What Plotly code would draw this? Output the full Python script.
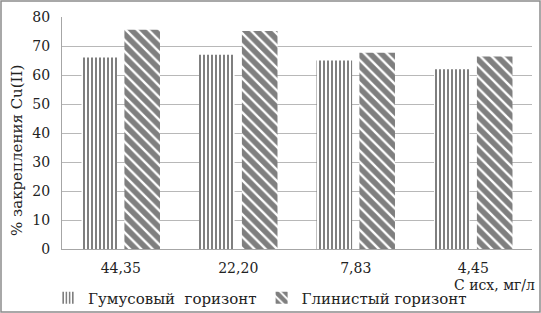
import plotly.graph_objects as go

categories = ["44,35", "22,20", "7,83", "4,45"]
humus = [66, 67, 65, 62]
clay = [75.6, 75.2, 67.7, 66.4]
series_names = ["Гумусовый  горизонт", "Глинистый горизонт"]

W, H = 541, 313
L, R, T, B = 62, 9, 17, 64
pw, ph = W - L - R, H - T - B

font = "DejaVu Serif"

fig = go.Figure()
fig.add_trace(go.Bar(
    x=categories, y=humus, name=series_names[0],
    marker=dict(color="white", line=dict(width=0),
                pattern=dict(shape="|", size=4, solidity=0.5, fgcolor="#000", bgcolor="white")),
))
fig.add_trace(go.Bar(
    x=categories, y=clay, name=series_names[1],
    marker=dict(color="white", line=dict(width=0),
                pattern=dict(shape="\\", size=8, solidity=0.7, fgcolor="#000", bgcolor="white")),
))

fig.update_layout(
    width=W, height=H,
    margin=dict(l=L, r=R, t=T, b=B, autoexpand=False),
    paper_bgcolor="white", plot_bgcolor="white",
    font=dict(family=font, size=14, color="#222"),
    barmode="group", bargap=0.27, bargroupgap=0.17,
    showlegend=True,
    legend=dict(orientation="h", x=(48 - L) / pw, xanchor="left",
                y=-(298 - (T + ph)) / ph, yanchor="middle",
                font=dict(family=font, size=15, color="#222"),
                tracegroupgap=0, bgcolor="rgba(0,0,0,0)"),
    xaxis=dict(showline=True, linecolor="#a6a6a6", linewidth=1, showgrid=False, automargin=False,
               ticks="", ticklabelstandoff=6, tickfont=dict(family=font, size=14, color="#222")),
    yaxis=dict(range=[0, 80], dtick=10, showgrid=True, gridcolor="#b8b8b8", gridwidth=1,
               showline=True, linecolor="#a6a6a6", linewidth=1, zeroline=False, automargin=False,
               ticks="", ticklabelstandoff=8, tickfont=dict(family=font, size=14, color="#222")),
    annotations=[
        dict(text="С исх, мг/л", xref="paper", yref="paper",
             x=(537 - L) / pw, y=-(285 - (T + ph)) / ph, xanchor="right", yanchor="middle",
             showarrow=False, font=dict(family=font, size=14, color="#222")),
        dict(text="% закрепления Cu(II)", xref="paper", yref="paper", textangle=-90,
             x=-(L - 17) / pw, y=1 - (151 - T) / ph, xanchor="center", yanchor="middle",
             showarrow=False, font=dict(family=font, size=15, color="#222")),
    ],
    shapes=[dict(type="rect", xref="paper", yref="paper",
                 x0=-(L - 1) / pw, x1=(pw + R - 1) / pw,
                 y0=-(B - 1) / ph, y1=(ph + T - 1) / ph,
                 line=dict(color="#8c8c8c", width=1.5), fillcolor="rgba(0,0,0,0)")],
)

fig.write_html("out.html", config={"displayModeBar": False},
               post_script="document.body.style.margin='0';document.body.style.overflow='hidden';")
